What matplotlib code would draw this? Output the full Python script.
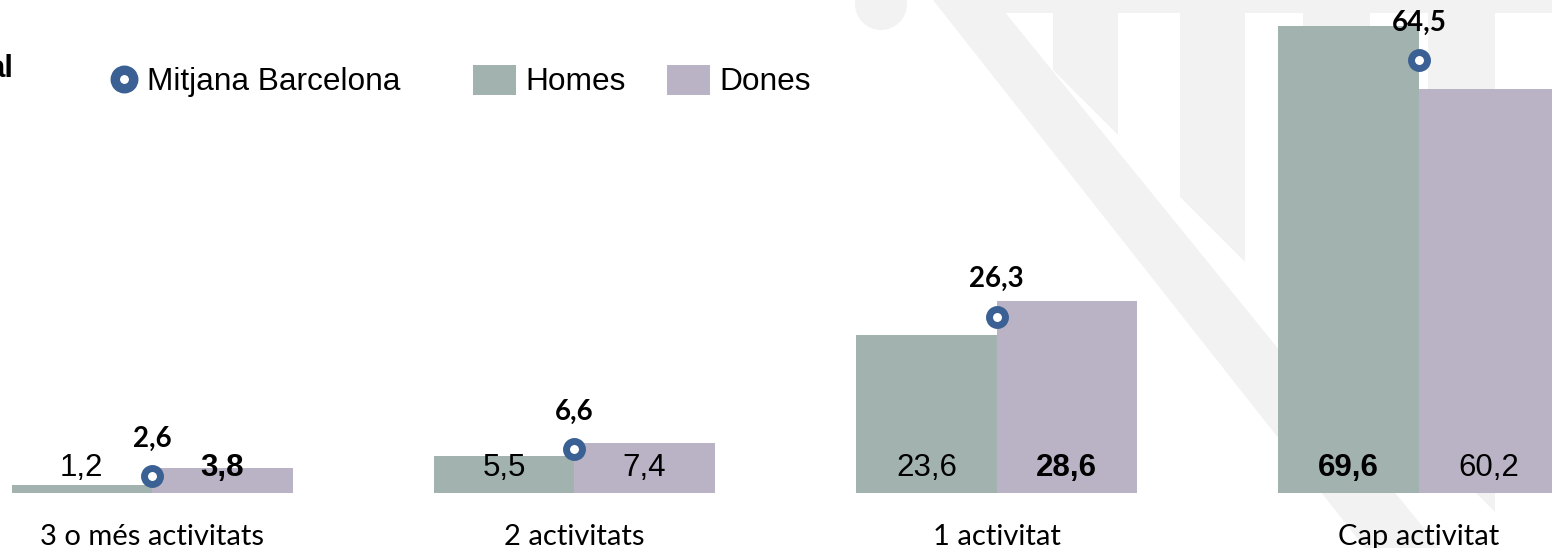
import numpy as np
import matplotlib
matplotlib.use("Agg")
import matplotlib.pyplot as plt
from matplotlib.patches import Polygon, Circle, Rectangle, Patch
from matplotlib.lines import Line2D

categories = ["3 o més activitats", "2 activitats", "1 activitat", "Cap activitat"]
homes = [1.2, 5.5, 23.6, 69.6]
dones = [3.8, 7.4, 28.6, 60.2]
mitjana = [2.6, 6.6, 26.3, 64.5]
homes_bold = [False, False, False, True]
dones_bold = [True, False, True, False]

col_homes = "#A2B3AF"
col_dones = "#BAB3C5"
col_mitjana = "#3A6094"
wm = "#F2F2F2"


def fmt(v):
    return f"{v:.1f}".replace(".", ",")


W, H = 1552, 548
fig = plt.figure(figsize=(W / 100, H / 100), dpi=100)

# faint logo watermark in the background (pixel coordinates)
bg = fig.add_axes([0, 0, 1, 1], zorder=0)
bg.set_xlim(0, W)
bg.set_ylim(H, 0)
bg.axis("off")
bg.add_patch(Circle((881, 4), 26, color=wm, lw=0))
bg.add_patch(Polygon([(933, 0), (995, 0), (1440, 548), (1365, 548)], color=wm, lw=0))
bg.add_patch(Rectangle((995, 0), 560, 13, color=wm, lw=0))
for x0, x1 in [(1053, 1118), (1180, 1245), (1303, 1370), (1428, 1495)]:
    bg.add_patch(Polygon([(x0, 12), (x1, 12), (x1, 70 + x1 - 1053), (x0, 70 + x0 - 1053)],
                         color=wm, lw=0))

# main chart
ax = fig.add_axes([0, 55 / H, 1, 493 / H], zorder=1)
ax.patch.set_alpha(0)
x = np.arange(len(categories))
w = 0.3327
ax.bar(x - w / 2, homes, w, color=col_homes, lw=0)
ax.bar(x + w / 2, dones, w, color=col_dones, lw=0)
ax.plot(x, mitjana, "o", ls="none", ms=11.5, mew=5, mfc="white", mec=col_mitjana, zorder=5)

for i in range(len(categories)):
    ax.text(x[i] - w / 2, 2.6, fmt(homes[i]), ha="center", va="baseline", fontsize=22.5,
            family="Liberation Sans", fontweight="bold" if homes_bold[i] else "normal")
    ax.text(x[i] + w / 2, 2.6, fmt(dones[i]), ha="center", va="baseline", fontsize=22.5,
            family="Liberation Sans", fontweight="bold" if dones_bold[i] else "normal")
    ax.annotate(fmt(mitjana[i]), (x[i], mitjana[i]), xytext=(0, 21), textcoords="offset points",
                ha="center", va="baseline", fontsize=20, family="Lato", fontweight="bold")

ax.set_xlim(-0.36, 3.3152)
ax.set_ylim(0, 73.47)
for s in ax.spines.values():
    s.set_visible(False)
ax.set_yticks([])
ax.set_xticks(x, categories, family="Lato", fontsize=21)
ax.tick_params(axis="x", length=0, pad=22.5)

fig.text(13 / W, 1 - 77 / H, "al", ha="right", va="baseline", fontsize=22.5,
         family="Liberation Sans", fontweight="bold")

# legend
prop = {"family": "Liberation Sans", "size": 22.8}
mk = Line2D([], [], marker="o", ls="none", ms=13.3, mew=6.8, mfc="white", mec=col_mitjana)
fig.legend(handles=[mk], labels=["Mitjana Barcelona"], loc="center left",
           bbox_to_anchor=(102.5 / W, 1 - 82 / H), frameon=False, borderpad=0,
           borderaxespad=0, handlelength=1.36, handletextpad=0.05, prop=prop)
fig.legend(handles=[Patch(color=col_homes, lw=0), Patch(color=col_dones, lw=0)],
           labels=["Homes", "Dones"], ncol=2, loc="center left",
           bbox_to_anchor=(473 / W, 1 - 81 / H), frameon=False, borderpad=0,
           borderaxespad=0, handlelength=1.36, handleheight=1.08, handletextpad=0.29,
           columnspacing=1.3, prop=prop)

fig.savefig("out.png", dpi=100)
